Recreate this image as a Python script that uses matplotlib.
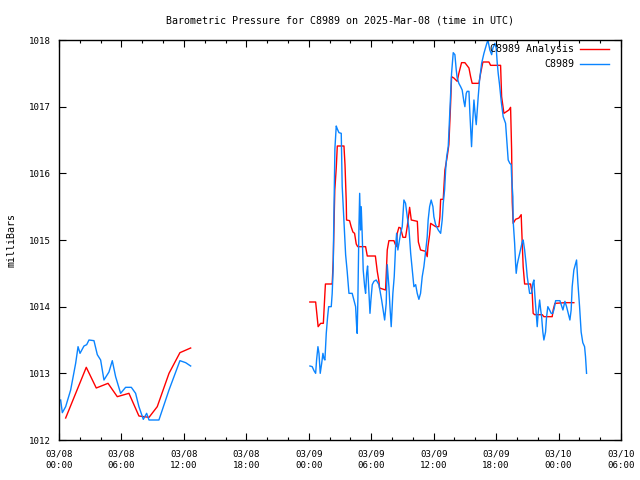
import matplotlib
matplotlib.use("Agg")
import matplotlib.pyplot as plt
import matplotlib.ticker as mticker
import numpy as np

# (hours since 2025-03-08 00:00 UTC, milliBars)
ANALYSIS_DAY1 = [
    (0.64, 1012.33), (2.62, 1013.09), (3.58, 1012.78), (4.71, 1012.85), (5.6, 1012.65),
    (6.72, 1012.70), (7.68, 1012.36), (8.65, 1012.34), (9.44, 1012.50), (10.57, 1013.0),
    (11.62, 1013.31), (12.65, 1013.38),
]
ANALYSIS_DAY2 = [
    (24.1, 1014.07), (24.66, 1014.07), (24.9, 1013.70), (25.14, 1013.75), (25.4, 1013.75),
    (25.55, 1014.2), (25.6, 1014.34), (26.25, 1014.34), (26.35, 1014.7), (26.5, 1015.75),
    (26.64, 1016.08), (26.74, 1016.41), (27.38, 1016.41), (27.48, 1016.13), (27.6, 1015.58),
    (27.63, 1015.3), (27.92, 1015.29), (28.07, 1015.2), (28.24, 1015.12), (28.4, 1015.1),
    (28.56, 1014.94), (28.7, 1014.9), (29.46, 1014.9), (29.62, 1014.76), (30.4, 1014.76),
    (30.58, 1014.53), (30.74, 1014.38), (30.8, 1014.28), (31.38, 1014.25), (31.54, 1014.85),
    (31.7, 1014.99), (32.18, 1014.99), (32.4, 1014.9), (32.5, 1015.1), (32.66, 1015.19),
    (32.82, 1015.18), (33.05, 1015.04), (33.3, 1015.04), (33.46, 1015.2), (33.69, 1015.49),
    (33.85, 1015.3), (34.43, 1015.28), (34.53, 1014.97), (34.74, 1014.85), (35.23, 1014.83),
    (35.38, 1014.75), (35.45, 1014.9), (35.61, 1015.08), (35.71, 1015.25), (36.19, 1015.2),
    (36.5, 1015.2), (36.6, 1015.35), (36.67, 1015.61), (36.92, 1015.61), (36.98, 1015.78),
    (37.08, 1016.05), (37.3, 1016.25), (37.46, 1016.43), (37.63, 1017.05), (37.72, 1017.45),
    (37.94, 1017.43), (38.26, 1017.38), (38.42, 1017.5), (38.68, 1017.66), (39.0, 1017.66),
    (39.39, 1017.58), (39.55, 1017.45), (39.7, 1017.35), (40.35, 1017.35), (40.51, 1017.5),
    (40.73, 1017.67), (41.31, 1017.67), (41.47, 1017.62), (42.43, 1017.62), (42.53, 1017.15),
    (42.75, 1016.9), (43.23, 1016.95), (43.39, 1016.99), (43.49, 1016.35), (43.55, 1015.57),
    (43.64, 1015.25), (43.87, 1015.31), (44.19, 1015.33), (44.41, 1015.38), (44.45, 1015.2),
    (44.6, 1014.6), (44.74, 1014.34), (45.31, 1014.34), (45.47, 1014.2), (45.56, 1013.9),
    (45.7, 1013.88), (46.43, 1013.88), (46.59, 1013.85), (47.39, 1013.85), (47.48, 1013.95),
    (47.65, 1014.05), (48.67, 1014.06), (49.47, 1014.06),
]
OBS_DAY1 = [
    (0.16, 1012.6), (0.32, 1012.41), (0.64, 1012.5), (1.12, 1012.75), (1.6, 1013.15),
    (1.83, 1013.4), (2.02, 1013.3), (2.4, 1013.41), (2.66, 1013.43), (2.88, 1013.5),
    (3.36, 1013.49), (3.68, 1013.28), (4.0, 1013.2), (4.32, 1012.9), (4.8, 1013.02),
    (5.12, 1013.19), (5.44, 1012.95), (5.92, 1012.7), (6.4, 1012.79), (6.95, 1012.79),
    (7.36, 1012.7), (7.68, 1012.5), (8.1, 1012.31), (8.42, 1012.4), (8.65, 1012.3),
    (9.6, 1012.3), (10.57, 1012.75), (11.62, 1013.19), (12.17, 1013.16), (12.65, 1013.11),
]
OBS_DAY2 = [
    (24.11, 1013.11), (24.33, 1013.1), (24.5, 1013.04), (24.66, 1013.0), (24.75, 1013.2),
    (24.88, 1013.4), (24.98, 1013.3), (25.1, 1013.0), (25.24, 1013.15), (25.36, 1013.3),
    (25.46, 1013.22), (25.55, 1013.2), (25.68, 1013.6), (25.81, 1013.85), (25.91, 1014.0),
    (26.16, 1014.0), (26.25, 1014.2), (26.35, 1014.6), (26.39, 1015.12), (26.51, 1016.37),
    (26.64, 1016.71), (26.73, 1016.67), (26.9, 1016.61), (27.12, 1016.6), (27.21, 1015.81),
    (27.38, 1015.28), (27.54, 1014.78), (27.69, 1014.53), (27.86, 1014.2), (28.17, 1014.2),
    (28.34, 1014.1), (28.5, 1014.0), (28.6, 1013.7), (28.65, 1013.6), (28.72, 1014.13),
    (28.82, 1015.2), (28.89, 1015.7), (28.98, 1015.15), (29.04, 1015.5), (29.14, 1015.05),
    (29.23, 1014.55), (29.37, 1014.3), (29.46, 1014.2), (29.56, 1014.5), (29.65, 1014.61),
    (29.78, 1014.22), (29.88, 1013.9), (29.97, 1014.1), (30.1, 1014.33), (30.26, 1014.38),
    (30.48, 1014.4), (30.74, 1014.33), (31.0, 1014.1), (31.15, 1013.95), (31.29, 1013.8),
    (31.44, 1014.05), (31.54, 1014.63), (31.7, 1014.3), (31.8, 1014.0), (31.92, 1013.7),
    (32.08, 1014.2), (32.21, 1014.45), (32.34, 1014.9), (32.44, 1015.1), (32.56, 1014.85),
    (32.66, 1014.95), (32.82, 1015.1), (32.98, 1015.2), (33.14, 1015.6), (33.3, 1015.55),
    (33.46, 1015.35), (33.62, 1015.18), (33.79, 1014.8), (33.94, 1014.55), (34.1, 1014.3),
    (34.27, 1014.33), (34.42, 1014.2), (34.58, 1014.11), (34.74, 1014.2), (34.9, 1014.45),
    (35.06, 1014.6), (35.23, 1014.83), (35.38, 1015.05), (35.47, 1015.3), (35.61, 1015.5),
    (35.76, 1015.6), (35.93, 1015.5), (36.02, 1015.35), (36.19, 1015.23), (36.44, 1015.15),
    (36.67, 1015.1), (36.82, 1015.3), (36.92, 1015.55), (37.05, 1015.75), (37.15, 1016.05),
    (37.25, 1016.25), (37.4, 1016.4), (37.53, 1016.85), (37.72, 1017.5), (37.88, 1017.81),
    (38.04, 1017.78), (38.17, 1017.55), (38.26, 1017.43), (38.42, 1017.35), (38.59, 1017.3),
    (38.74, 1017.25), (38.9, 1017.08), (39.0, 1017.0), (39.13, 1017.2), (39.22, 1017.23),
    (39.39, 1017.23), (39.48, 1016.9), (39.58, 1016.6), (39.64, 1016.4), (39.74, 1016.75),
    (39.87, 1017.1), (39.96, 1016.93), (40.09, 1016.73), (40.18, 1016.93), (40.28, 1017.15),
    (40.41, 1017.4), (40.61, 1017.65), (40.83, 1017.8), (41.05, 1017.92), (41.21, 1018.0),
    (41.4, 1017.85), (41.57, 1017.78), (41.69, 1017.88), (41.88, 1017.95), (42.01, 1017.88),
    (42.1, 1017.67), (42.2, 1017.5), (42.33, 1017.33), (42.49, 1017.08), (42.68, 1016.85),
    (42.91, 1016.75), (43.07, 1016.4), (43.16, 1016.2), (43.32, 1016.15), (43.45, 1016.13),
    (43.49, 1015.95), (43.61, 1015.65), (43.64, 1015.28), (43.78, 1014.95), (43.87, 1014.65),
    (43.93, 1014.5), (44.03, 1014.63), (44.12, 1014.7), (44.26, 1014.8), (44.41, 1014.9),
    (44.51, 1014.97), (44.6, 1015.0), (44.74, 1014.85), (44.89, 1014.63), (44.99, 1014.45),
    (45.08, 1014.35), (45.22, 1014.2), (45.41, 1014.2), (45.53, 1014.35), (45.63, 1014.4),
    (45.73, 1014.15), (45.85, 1013.9), (45.95, 1013.7), (46.04, 1013.9), (46.18, 1014.1),
    (46.27, 1013.97), (46.37, 1013.85), (46.49, 1013.62), (46.59, 1013.5), (46.75, 1013.62),
    (46.85, 1013.85), (46.97, 1014.0), (47.14, 1013.95), (47.29, 1013.9), (47.45, 1013.9),
    (47.58, 1013.97), (47.72, 1014.09), (48.13, 1014.09), (48.29, 1014.01), (48.42, 1013.95),
    (48.61, 1014.08), (48.77, 1014.0), (48.93, 1013.9), (49.09, 1013.8), (49.21, 1013.95),
    (49.31, 1014.3), (49.47, 1014.55), (49.64, 1014.65), (49.73, 1014.7), (49.86, 1014.35),
    (50.02, 1014.0), (50.17, 1013.62), (50.33, 1013.46), (50.5, 1013.4), (50.59, 1013.25),
    (50.69, 1013.0),
]

TICK_HOURS = [0, 6, 12, 18, 24, 30, 36, 42, 48, 54]
TICK_LABELS = [
    "03/08\n00:00", "03/08\n06:00", "03/08\n12:00", "03/08\n18:00",
    "03/09\n00:00", "03/09\n06:00", "03/09\n12:00", "03/09\n18:00",
    "03/10\n00:00", "03/10\n06:00",
]

RED = "#ff0000"
BLUE = "#0a84ff"


def join_segments(*segments):
    # put a NaN between segments so the line breaks over the data gap
    xs, ys = [], []
    for i, seg in enumerate(segments):
        if i > 0:
            xs.append(np.nan)
            ys.append(np.nan)
        xs.extend(h for h, _ in seg)
        ys.extend(v for _, v in seg)
    return np.array(xs), np.array(ys)


plt.rcParams["font.family"] = ["DejaVu Sans Mono"]
plt.rcParams["font.size"] = 7.2

fig = plt.figure(figsize=(6.4, 4.8), dpi=100)
ax = fig.add_axes([59 / 640, 40 / 480, 562 / 640, 400 / 480])

obs_x, obs_y = join_segments(OBS_DAY1, OBS_DAY2)
ana_x, ana_y = join_segments(ANALYSIS_DAY1, ANALYSIS_DAY2)
ax.plot(ana_x, ana_y, color=RED, linewidth=1.0)
ax.plot(obs_x, obs_y, color=BLUE, linewidth=1.0)

ax.set_xlim(0, 54)
ax.set_ylim(1012, 1018)
ax.set_xticks(TICK_HOURS)
ax.set_xticklabels(TICK_LABELS)
ax.set_xticks(np.arange(0, 55, 2), minor=True)
ax.set_yticks(np.arange(1012, 1019, 1))
ax.yaxis.set_major_formatter(mticker.FormatStrFormatter("%d"))
ax.tick_params(which="both", direction="in", top=True, right=True, width=0.8,
               labelsize=6.6)
ax.tick_params(which="major", length=5)
ax.tick_params(which="minor", length=2.5)
ax.tick_params(axis="x", which="major", pad=7)
ax.tick_params(axis="y", which="major", pad=5.5)
for lbl in ax.get_xticklabels():
    lbl.set_linespacing(1.35)
for spine in ax.spines.values():
    spine.set_linewidth(1.0)

ax.set_title("Barometric Pressure for C8989 on 2025-Mar-08 (time in UTC)",
             fontsize=7.2, pad=12)
fig.text(12 / 640, 0.5, "milliBars", rotation=90, ha="center", va="center")

# gnuplot-style key: right-aligned text, line sample to its right
key = [("C8989 Analysis", RED, 0.977), ("C8989", BLUE, 0.939)]
for label, color, ky in key:
    ax.text(0.9164, ky, label, transform=ax.transAxes, ha="right", va="center")
    ax.plot([0.927, 0.9786], [ky, ky], transform=ax.transAxes, color=color,
            linewidth=1.0, clip_on=False)

fig.savefig("out.png", dpi=100)
